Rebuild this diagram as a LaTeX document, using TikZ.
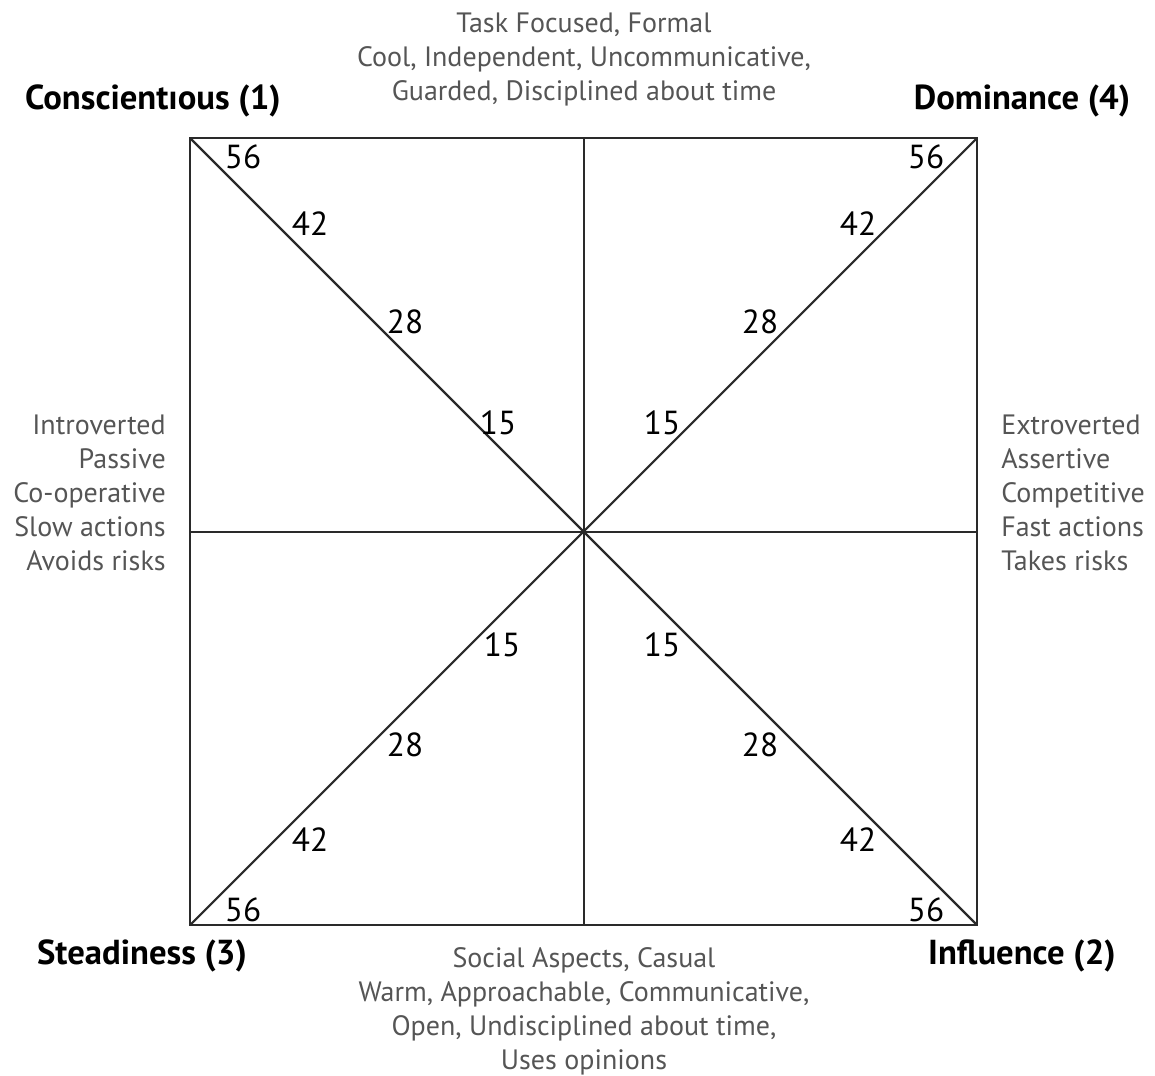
\documentclass[tikz,border=0pt]{standalone}
\usepackage{fontspec}
\setmainfont{PT Sans}
\definecolor{txtgray}{HTML}{555555}
\definecolor{linegray}{HTML}{2A2A2A}
\begin{document}
\begin{tikzpicture}[x=0.75pt,y=-0.75pt,
  desc/.style={text=txtgray,font=\fontsize{21}{25.5}\selectfont,inner sep=0pt},
  corner/.style={text=black,font=\fontsize{26}{30}\selectfont\bfseries,inner sep=0pt},
  num/.style={text=black,font=\fontsize{25}{28}\selectfont,inner sep=0pt},
  axis/.style={draw=linegray,line width=1.6pt}]
\useasboundingbox (0,0) rectangle (1155,1075);
\coordinate (tl) at (190,138);
\coordinate (tr) at (977,138);
\coordinate (bl) at (190,925);
\coordinate (br) at (977,925);
\coordinate (c) at (584,532);
\coordinate (tm) at (584,138);
\coordinate (bm) at (584,925);
\coordinate (lm) at (190,532);
\coordinate (rm) at (977,532);
\draw[axis] (tl) rectangle (br);
\draw[axis] (tm) -- (bm);
\draw[axis] (lm) -- (rm);
\draw[axis] (tl) -- (br);
\draw[axis] (tr) -- (bl);
% numbers
\node[num] (n1) at (243,157) {56};
\node[num] (n2) at (310,224) {42};
\node[num] (n3) at (405,322) {28};
\node[num] (n4) at (498,423) {15};
\node[num] (n5) at (926,157) {56};
\node[num] (n6) at (858,224) {42};
\node[num] (n7) at (760,322) {28};
\node[num] (n8) at (662,423) {15};
\node[num] (n9) at (502,645) {15};
\node[num] (n10) at (405,745) {28};
\node[num] (n11) at (310,840) {42};
\node[num] (n12) at (243,910) {56};
\node[num] (n13) at (662,645) {15};
\node[num] (n14) at (760,745) {28};
\node[num] (n15) at (858,840) {42};
\node[num] (n16) at (926,910) {56};
% corner labels
\node[corner] (cC) at (153,101) {Conscientıous (1)};
\node[corner] (cD) at (1022,101) {Dominance (4)};
\node[corner] (cS) at (142,956) {Steadiness (3)};
\node[corner] (cI) at (1022,956) {Influence (2)};
% descriptions
\node[desc,align=center] (top) at (584,59) {Task Focused, Formal\\Cool, Independent, Uncommunicative,\\Guarded, Disciplined about time};
\node[desc,align=center] (bot) at (584,1011) {Social Aspects, Casual\\Warm, Approachable, Communicative,\\Open, Undisciplined about time,\\Uses opinions};
\node[desc,align=right,anchor=east] (left) at (166,493) {Introverted\\Passive\\Co-operative\\Slow actions\\Avoids risks};
\node[desc,align=left,anchor=west] (right) at (1001,493) {Extroverted\\Assertive\\Competitive\\Fast actions\\Takes risks};
\end{tikzpicture}
\end{document}
